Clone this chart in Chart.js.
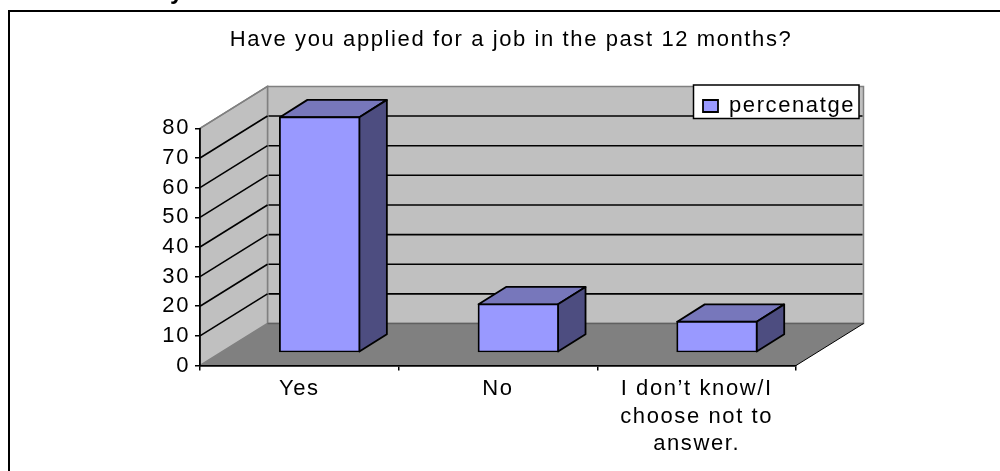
<!DOCTYPE html>
<html>
<head>
<meta charset="utf-8">
<title>Job applications</title>
<script src="https://cdn.jsdelivr.net/npm/chart.js@4/dist/chart.umd.min.js"></script>
<style>
	html, body { margin: 0; padding: 0; background: #fff; overflow: hidden; }
	#frame { position: absolute; left: 8px; top: 10px; right: 0; bottom: 0; border-left: 2px solid #000; border-top: 2px solid #000; }
	#chart { position: absolute; left: 0; top: 0; }
</style>
</head>
<body>
<div id="frame"></div>
<canvas id="chart" width="1000" height="471"></canvas>
<script>
	var categories = ['Yes', 'No', ['I don\u2019t know/I', 'choose not to', 'answer.']];
	var percentages = [79.3, 16.2, 10.3];
	var seriesName = 'percenatge';
	var chartTitle = 'Have you applied for a job in the past 12 months?';

	// depth of the box the bars stand in, and where the bars sit inside it
	var depthX = 67.5, depthY = -42;
	var barShiftX = 20.3, barShiftY = -13.2;
	var barDepthX = 27.5, barDepthY = -17.4;
	var textSpacing = '1.6px';

	function poly(ctx, pts, fill, stroke, width) {
		ctx.beginPath();
		ctx.moveTo(pts[0][0], pts[0][1]);
		for (var i = 1; i < pts.length; i++) ctx.lineTo(pts[i][0], pts[i][1]);
		ctx.closePath();
		if (fill) { ctx.fillStyle = fill; ctx.fill(); }
		if (stroke) { ctx.strokeStyle = stroke; ctx.lineWidth = width; ctx.stroke(); }
	}

	function line(ctx, x1, y1, x2, y2, color, width) {
		ctx.beginPath();
		ctx.moveTo(x1, y1);
		ctx.lineTo(x2, y2);
		ctx.strokeStyle = color;
		ctx.lineWidth = width;
		ctx.stroke();
	}

	var box3d = {
		id: 'box3d',
		beforeLayout: function(chart) {
			chart.ctx.letterSpacing = textSpacing;
		},
		afterLayout: function(chart) {
			// legend floats over the top right corner of the back wall
			var legend = chart.legend;
			legend.left = 693;
			legend.right = 859;
			legend.top = 85;
			legend.bottom = 118;
		},
		// walls, floor and gridlines go under everything else
		beforeDraw: function(chart) {
			var ctx = chart.ctx, area = chart.chartArea, y = chart.scales.y;
			ctx.letterSpacing = textSpacing;
			var l = area.left, r = area.right, t = area.top, b = area.bottom;
			var backL = l + depthX, backR = r + depthX, backT = t + depthY, backB = b + depthY;

			ctx.save();
			// tail of the page heading that runs off the top edge
			ctx.fillStyle = '#000';
			ctx.font = 'bold 24px "Liberation Sans"';
			ctx.textBaseline = 'alphabetic';
			ctx.textAlign = 'left';
			ctx.fillText('y', 170, -1.5);

			poly(ctx, [[backL, backT], [backR, backT], [backR, backB], [backL, backB]], '#c0c0c0', '#808080', 1.5);
			poly(ctx, [[l, t], [backL, backT], [backL, backB], [l, b]], '#c0c0c0', '#808080', 1.5);
			poly(ctx, [[l, b], [r, b], [backR, backB], [backL, backB]], '#808080', null);
			line(ctx, backL, backB, backR, backB, '#606060', 1.5);
			line(ctx, r, b, backR, backB, '#000', 1);

			y.ticks.forEach(function(tick) {
				if (tick.value === 0) return;
				var py = y.getPixelForValue(tick.value);
				if (tick.value < y.max) {
					line(ctx, l, py, backL, py + depthY, '#000', 1.6);
					line(ctx, backL + 1, py + depthY, backR - 1, py + depthY, '#000', 1.6);
				}
			});
			line(ctx, l, t, backL, backT, '#808080', 1.5);

			// legend frame, the library puts the swatch and text on top of it
			ctx.fillStyle = '#fff';
			ctx.fillRect(693.5, 85, 165.5, 33.5);
			ctx.strokeStyle = '#000';
			ctx.lineWidth = 1.5;
			ctx.strokeRect(693.5, 85, 165.5, 33.5);
			ctx.restore();
		},
		// side and top faces first, then the library's bars pushed back into the box
		beforeDatasetsDraw: function(chart) {
			var ctx = chart.ctx;
			ctx.save();
			ctx.translate(barShiftX, barShiftY);
			ctx.lineJoin = 'round';
			chart.getDatasetMeta(0).data.forEach(function(bar) {
				var x2 = bar.x + bar.width / 2, x1 = bar.x - bar.width / 2;
				var top = bar.y, base = bar.base;
				poly(ctx, [[x1, top], [x2, top], [x2 + barDepthX, top + barDepthY], [x1 + barDepthX, top + barDepthY]], '#7777bb', '#000', 1.8);
				poly(ctx, [[x2, top], [x2 + barDepthX, top + barDepthY], [x2 + barDepthX, base + barDepthY], [x2, base]], '#4d4d80', '#000', 1.8);
			});
		},
		afterDatasetsDraw: function(chart) {
			chart.ctx.restore();
		}
	};

	Chart.defaults.font.family = '"Liberation Sans", Arial, sans-serif';
	Chart.defaults.font.size = 22;
	Chart.defaults.color = '#000';

	var ctx = document.getElementById('chart').getContext('2d');
	new Chart(ctx, {
		type: 'bar',
		plugins: [box3d],
		data: {
			labels: categories,
			datasets: [{
				label: seriesName,
				data: percentages,
				backgroundColor: '#9999ff',
				borderColor: '#000',
				borderWidth: 1.8,
				borderSkipped: false,
				inflateAmount: 0.9,
				barPercentage: 0.4,
				categoryPercentage: 1
			}]
		},
		options: {
			responsive: false,
			animation: false,
			layout: { padding: { left: 0, right: 204, top: 0, bottom: 0 } },
			plugins: {
				title: {
					display: true,
					text: chartTitle,
					font: { size: 22, weight: 'normal' },
					padding: { top: 27, bottom: 33 }
				},
				legend: {
					display: true,
					align: 'start',
					labels: { boxWidth: 15, boxHeight: 12, padding: 10, font: { size: 22 } }
				},
				tooltip: { enabled: false }
			},
			scales: {
				x: {
					afterFit: function(scale) { scale.height = 105.5; },
					grid: { drawOnChartArea: false, color: '#000', lineWidth: 1.5, tickLength: 5 },
					border: { color: '#000', width: 1.8 },
					ticks: { autoSkip: false, maxRotation: 0, padding: 5, font: { lineHeight: 1.25 } }
				},
				y: {
					min: 0,
					max: 80,
					afterFit: function(scale) { scale.width = 200; },
					grid: { drawOnChartArea: false, color: '#000', lineWidth: 1.5, tickLength: 5 },
					border: { color: '#000', width: 1.8 },
					ticks: { stepSize: 10, padding: 5 }
				}
			}
		}
	});

	// the title centres over the whole frame, not the plot
	var chart = Chart.getChart('chart');
	chart.titleBlock.left = 22;
	chart.titleBlock.right = 1000;
	chart.draw();
</script>
</body>
</html>
